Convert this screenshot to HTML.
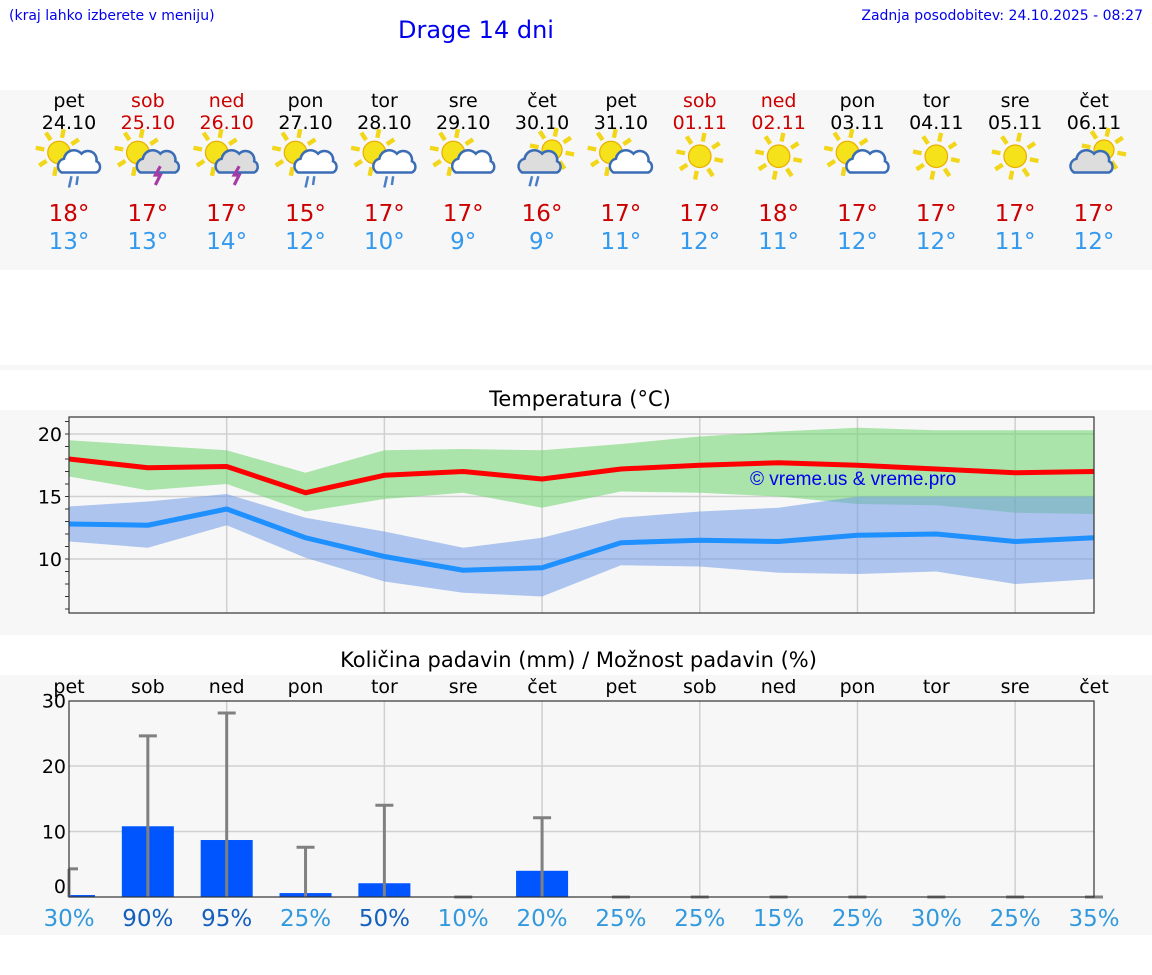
<!DOCTYPE html>
<html><head><meta charset="utf-8">
<style>
body{margin:0;width:1152px;height:975px;background:#fff;font-family:"DejaVu Sans","Liberation Sans",sans-serif;position:relative;overflow:hidden}
.a{position:absolute}
</style></head>
<body>
<div class="a" style="left:9px;top:8px;font-size:14px;color:#0000ee">(kraj lahko izberete v meniju)</div>
<div class="a" style="left:398px;top:16px;font-size:24px;color:#0000ee">Drage 14 dni</div>
<div class="a" style="right:9px;top:8px;font-size:14px;color:#0000ee">Zadnja posodobitev: 24.10.2025 - 08:27</div>
<div class="a" style="left:0;top:90px;width:1152px;height:180px;background:#f7f7f7"></div>
<div class="a" style="left:0;top:365px;width:1152px;height:5px;background:#f7f7f7"></div>
<div class="a" style="left:0;top:410px;width:1152px;height:225px;background:#f7f7f7"></div>
<div class="a" style="left:0;top:675px;width:1152px;height:260px;background:#f7f7f7"></div>
<div class="a" style="left:0;width:1160px;top:387px;text-align:center;font-size:21px">Temperatura (°C)</div>
<div class="a" style="left:0;width:1157px;top:648px;text-align:center;font-size:21px">Količina padavin (mm) / Možnost padavin (%)</div>
<svg id="chart" class="a" style="left:0;top:0" width="1152" height="975"></svg>
<script>
const dayNames=["pet","sob","ned","pon","tor","sre","čet","pet","sob","ned","pon","tor","sre","čet"];
const dates=["24.10","25.10","26.10","27.10","28.10","29.10","30.10","31.10","01.11","02.11","03.11","04.11","05.11","06.11"];
const weekend=[0,1,1,0,0,0,0,0,1,1,0,0,0,0];
const icons=["rain","storm","storm","rain","rain","cloud","cloudrain","cloud","sun","sun","cloud","sun","sun","cloudsun"];
const maxT=[18.0,17.3,17.4,15.3,16.7,17.0,16.4,17.2,17.5,17.7,17.5,17.2,16.9,17.0];
const maxHi=[19.5,19.1,18.7,16.9,18.7,18.8,18.7,19.2,19.8,20.2,20.5,20.3,20.3,20.3];
const maxLo=[16.6,15.5,16.0,13.8,14.8,15.3,14.1,15.4,15.3,15.0,14.4,14.3,13.7,13.6];
const minT=[12.8,12.7,14.0,11.7,10.2,9.1,9.3,11.3,11.5,11.4,11.9,12.0,11.4,11.7];
const minHi=[14.2,14.6,15.2,13.3,12.2,10.9,11.7,13.3,13.8,14.1,15.0,15.0,15.0,15.0];
const minLo=[11.4,10.9,12.7,10.1,8.2,7.3,7.0,9.5,9.4,8.9,8.8,9.0,8.0,8.4];
const maxLabel=[18,17,17,15,17,17,16,17,17,18,17,17,17,17];
const minLabel=[13,13,14,12,10,9,9,11,12,11,12,12,11,12];
const rain=[0.3,10.8,8.7,0.6,2.1,0,4.0,0,0,0,0,0,0,0];
const rainMax=[4.3,24.6,28.1,7.6,14.0,0,12.1,0,0,0,0,0,0,0];
const chance=[30,90,95,25,50,10,20,25,25,15,25,30,25,35];
const tTicks=[10,15,20];
const pTicks=[0,10,20,30];

const NS="http://www.w3.org/2000/svg";
const svg=document.getElementById('chart');
const X0=69,X1=1094,N=14;
const xd=i=>X0+i*(X1-X0)/(N-1);
const yT=v=>559-(v-10)*12.5;
const yP=v=>897-v*6.55;
function mk(tag,at,parent){const e=document.createElementNS(NS,tag);for(const k in at)e.setAttribute(k,at[k]);(parent||svg).appendChild(e);return e;}
let r=mk('rect',{x:X0,y:417,width:X1-X0,height:196,fill:'#f7f7f7'});


tTicks.forEach(v=>{mk('line',{x1:X0,x2:X1,y1:yT(v),y2:yT(v),stroke:'#d0d0d0','stroke-width':1.5});
 let t=mk('text',{x:62,y:yT(v)+7,'text-anchor':'end','font-size':19,fill:'#000','font-family':'DejaVu Sans,sans-serif'});t.textContent=v;
 
 });
for(let v=6;v<=21;v++)mk('line',{x1:X0-4,x2:X0,y1:yT(v),y2:yT(v),stroke:'#333'});
for(let i=2;i<N;i+=2)mk('line',{x1:xd(i),x2:xd(i),y1:417,y2:613,stroke:'#d0d0d0','stroke-width':1.5});
function band(hi,lo,fill,name){let d='M'+hi.map((v,i)=>xd(i)+','+yT(v)).join('L')+'L'+lo.map((v,i)=>xd(i)+','+yT(v)).reverse().join('L')+'Z';
 let p=mk('path',{d,fill,opacity:0.55});
 }
band(maxHi,maxLo,'#6cd66c','max-temp-range');
band(minHi,minLo,'#6f9ae8','min-temp-range');
function line(a,c,name){let p=mk('polyline',{points:a.map((v,i)=>xd(i)+','+yT(v)).join(' '),fill:'none',stroke:c,'stroke-width':5,'stroke-linejoin':'round'});
 
 }
line(maxT,'#ff0000','max-temp-line');
line(minT,'#1e90ff','min-temp-line');
mk('rect',{x:X0,y:417,width:X1-X0,height:196,fill:'none',stroke:'#333','stroke-width':1.2});
let wm=mk('text',{x:750,y:485,'font-size':19,fill:'#0000ee','font-family':'Liberation Sans,sans-serif'});wm.textContent='© vreme.us & vreme.pro';


r=mk('rect',{x:X0,y:701,width:X1-X0,height:196,fill:'#f7f7f7'});


pTicks.forEach(v=>{if(v>0&&v<30)mk('line',{x1:X0,x2:X1,y1:yP(v),y2:yP(v),stroke:'#d0d0d0','stroke-width':1.5});
 let t=mk('text',{x:66,y:(v==0?893:yP(v)+7),'text-anchor':'end','font-size':19,fill:'#000','font-family':'DejaVu Sans,sans-serif'});t.textContent=v;
 
 });
for(let i=2;i<N;i+=2)mk('line',{x1:xd(i),x2:xd(i),y1:701,y2:897,stroke:'#d0d0d0','stroke-width':1.5});
rain.forEach((v,i)=>{const l=Math.max(X0,xd(i)-26),rr=xd(i)+26;
 let b=mk('rect',{x:l,y:yP(v),width:rr-l,height:897-yP(v),fill:'#0055ff'});
 
 });
rainMax.forEach((v,i)=>{const x=xd(i);
 mk('line',{x1:x,x2:x,y1:897,y2:yP(v),stroke:'#808080','stroke-width':3});
 let c=mk('line',{x1:Math.max(X0,x-9),x2:x+9,y1:yP(v),y2:yP(v),stroke:'#808080','stroke-width':3});
 
 });
mk('rect',{x:X0,y:701,width:X1-X0,height:196,fill:'none',stroke:'#333','stroke-width':1.2});
dayNames.forEach((d,i)=>{let t=mk('text',{x:xd(i),y:693,'text-anchor':'middle','font-size':19,fill:'#000','font-family':'DejaVu Sans,sans-serif'});t.textContent=d;
 
 });
chance.forEach((c,i)=>{let t=mk('text',{x:xd(i),y:926,'text-anchor':'middle','font-size':23,fill:c>=50?'#1560bd':'#3399dd','font-family':'DejaVu Sans,sans-serif'});t.textContent=c+'%';
 
 });
function sun(g,cx,cy,rad){for(let k=0;k<8;k++){const a=k*Math.PI/4+0.2;mk('line',{x1:cx+Math.cos(a)*(rad+3),y1:cy+Math.sin(a)*(rad+3),x2:cx+Math.cos(a)*(rad+10),y2:cy+Math.sin(a)*(rad+10),stroke:'#f2d61a','stroke-width':3.5},g);}
 mk('circle',{cx,cy,r:rad,fill:'#f5e21a',stroke:'#e8b000','stroke-width':1},g);}
function cloud(g,cx,cy,s,fill){mk('path',{d:`M${cx-14*s},${cy+8*s} a6 6 0 0 1 2,-11 a8 8 0 0 1 14,-4 a7 7 0 0 1 12,6 a5 5 0 0 1 0,9 Z`,fill,stroke:'#3a6db5','stroke-width':2},g);}
dayNames.forEach((d,i)=>{const x=xd(i);
 let t=mk('text',{x,y:107,'text-anchor':'middle','font-size':19,fill:weekend[i]?'#cc0000':'#000','font-family':'DejaVu Sans,sans-serif'});t.textContent=d;
 
 
 t=mk('text',{x,y:129,'text-anchor':'middle','font-size':19,fill:weekend[i]?'#cc0000':'#000','font-family':'DejaVu Sans,sans-serif'});t.textContent=dates[i];
 
 
 const g=mk('g',{transform:`translate(${x},165) scale(1.25) translate(${-x},-165)`});
 
 
 const ic=icons[i];
 if(ic=='sun'){sun(g,x,158,9);}
 else if(ic=='cloudsun'){sun(g,x+8,153,8);cloud(g,x-2,163,1,'#ddd');}
 else if(ic=='cloudrain'){sun(g,x+8,153,8);cloud(g,x-2,163,1,'#ddd');mk('path',{d:`M${x-8},174 l-2,8 M${x-3},174 l-2,8`,stroke:'#4a7fc8','stroke-width':2},g);}
 else {sun(g,x-8,155,9);cloud(g,x+8,163,1,ic=='storm'?'#ddd':'#fff');
  if(ic=='rain')mk('path',{d:`M${x+2},174 l-2,9 M${x+7},174 l-1,7`,stroke:'#4a7fc8','stroke-width':2},g);
  if(ic=='storm')mk('path',{d:`M${x+10},166 l-4,7 h4 l-4,8`,stroke:'#a83aa8','stroke-width':2.5,fill:'none'},g);}
 t=mk('text',{x,y:221,'text-anchor':'middle','font-size':23,fill:'#cc0000','font-family':'DejaVu Sans,sans-serif'});t.textContent=maxLabel[i]+'°';
 
 
 t=mk('text',{x,y:249,'text-anchor':'middle','font-size':23,fill:'#3399ee','font-family':'DejaVu Sans,sans-serif'});t.textContent=minLabel[i]+'°';
 
 
});
</script>
</body></html>
